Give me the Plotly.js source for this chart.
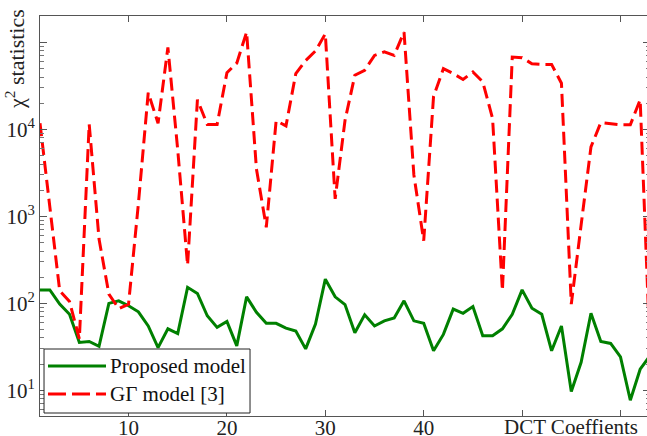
<!DOCTYPE html>
<html>
<head>
<meta charset="utf-8">
<script src="https://cdn.plot.ly/plotly-3.0.1.min.js"></script>
<style>
html, body { margin: 0; padding: 0; overflow: hidden; background: #fff; }
#chart { width: 650px; height: 436px; }
</style>
</head>
<body>
<div id="chart"></div>
<script>
// DCT coefficient index
const coeffs = [1,2,3,4,5,6,7,8,9,10,11,12,13,14,15,16,17,18,19,20,21,22,23,24,25,26,27,28,29,30,31,32,
  33,34,35,36,37,38,39,40,41,42,43,44,45,46,47,48,49,50,51,52,53,54,55,56,57,58,59,60,61,62,63];

// Proposed model chi^2 statistics
const proposed = [143,143,98,75,35.6,36.5,32,100,107,94,
  80,55,31,51,45,153,130,72,53,62,
  32.5,119,79,59,59,52,48,30,58,190,
  119,97,46,74,55,63,68,107,63,59,
  28.5,44,86,77,92,42.5,42.5,51,75,143,
  88,75,28.5,55,9.7,21,77,36.5,34.6,24.3,
  7.7,17.5,25];

// GΓ model [3] chi^2 statistics
const ggamma = [11800,1200,140,105,39,11500,550,128,87,98,
  1400,26500,11800,88000,5800,275,22000,11400,11400,45000,
  58000,132000,3500,750,12600,11000,44000,62000,80000,126000,
  1590,12700,42000,48000,71000,78000,71000,132000,3000,525,
  24000,50000,44000,37600,45900,35300,13400,140,68000,67000,
  57000,56000,56000,34000,98,800,6300,12000,11600,11300,
  11300,22000,28];

const seriesNames = ['Proposed model', 'GΓ model [3]'];
const xTickVals = [10,20,30,40,50,60];
const xTickText = ['10','20','30','40',' ',' '];
const yTickVals = [10,100,1000,10000,100000];
const yTickText = ['10<sup>1</sup>','10<sup>2</sup>','10<sup>3</sup>','10<sup>4</sup>',' '];

const minorVals = [];
for (let k = 0; k <= 5; k++) for (let m = 2; m <= 9; m++) minorVals.push(m * Math.pow(10, k));

const green = '#008000';
const red = '#ff0000';
const font = 'Liberation Serif, Times New Roman, serif';

const traces = [
  { x: coeffs, y: proposed, type: 'scatter', mode: 'lines', name: seriesNames[0],
    line: { color: green, width: 3 }, showlegend: false },
  { x: coeffs, y: ggamma, type: 'scatter', mode: 'lines', name: seriesNames[1],
    line: { color: red, width: 3, dash: '13px,6px' }, showlegend: false }
];

const layout = {
  width: 650, height: 436,
  margin: { l: 40, r: 0, t: 16, b: 20 },
  paper_bgcolor: '#fff', plot_bgcolor: '#fff',
  font: { family: font, size: 21, color: '#222' },
  xaxis: {
    range: [1, 63], showgrid: false, zeroline: false,
    showline: true, linecolor: '#555', linewidth: 1, mirror: 'ticks',
    ticks: 'inside', ticklen: 6, tickcolor: '#555',
    tickmode: 'array', tickvals: xTickVals, ticktext: xTickText,
    ticklabelstandoff: -7,
    tickfont: { family: font, size: 21, color: '#222' }
  },
  yaxis: {
    type: 'log', range: [0.705, 5.305], showgrid: false, zeroline: false,
    showline: true, linecolor: '#555', linewidth: 1, mirror: 'ticks',
    ticks: 'inside', ticklen: 7, tickcolor: '#555',
    tickmode: 'array', tickvals: yTickVals, ticktext: yTickText,
    tickfont: { family: font, size: 21, color: '#222' },
    minor: { ticks: 'inside', ticklen: 4, tickcolor: '#777', tickmode: 'array', tickvals: minorVals }
  },
  shapes: [
    { type: 'rect', xref: 'paper', yref: 'paper', x0: 0.0066, x1: 0.3443, y0: 0.0075, y1: 0.1675,
      line: { color: '#222', width: 1 }, fillcolor: '#fff', layer: 'above' },
    { type: 'line', xref: 'paper', yref: 'paper', x0: 0.0131, x1: 0.1082, y0: 0.125, y1: 0.125,
      line: { color: green, width: 3 }, layer: 'above' },
    { type: 'line', xref: 'paper', yref: 'paper', x0: 0.0131, x1: 0.1082, y0: 0.055, y1: 0.055,
      line: { color: red, width: 3, dash: '18px,6px' }, layer: 'above' }
  ],
  annotations: [
    { xref: 'paper', yref: 'paper', x: 0.1115, y: 0.125, xanchor: 'left', yanchor: 'middle',
      text: seriesNames[0], showarrow: false, font: { family: font, size: 21, color: '#111' } },
    { xref: 'paper', yref: 'paper', x: 0.1115, y: 0.055, xanchor: 'left', yanchor: 'middle',
      text: seriesNames[1], showarrow: false, font: { family: font, size: 21, color: '#111' } },
    { xref: 'paper', yref: 'paper', x: -0.041, y: 0.8925, xanchor: 'center', yanchor: 'middle',
      textangle: -90, text: 'χ<sup>2</sup> statistics', showarrow: false,
      font: { family: font, size: 22, color: '#222' } },
    { xref: 'paper', yref: 'paper', x: 0.9836, y: -0.0275, xanchor: 'right', yanchor: 'middle',
      text: 'DCT Coeffients', showarrow: false, font: { family: font, size: 21, color: '#222' } }
  ],
  showlegend: false
};

Plotly.newPlot('chart', traces, layout, { displayModeBar: false, staticPlot: true });
</script>
</body>
</html>
